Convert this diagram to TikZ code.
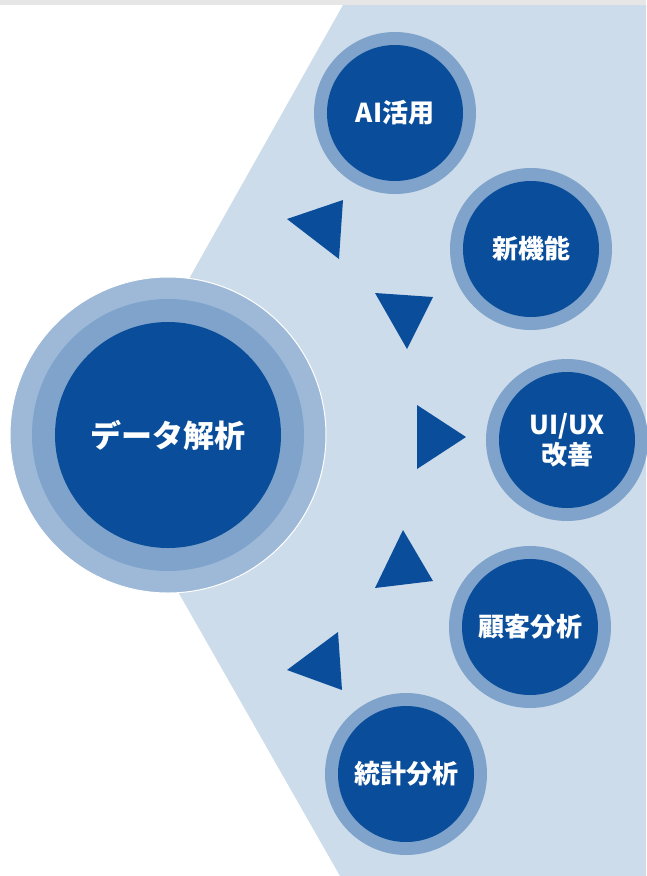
\documentclass[tikz,border=0pt]{standalone}
\usepackage{fontspec}
\newfontfamily\jp{Noto Sans CJK JP}
\definecolor{bandgray}{HTML}{E6E6E6}
\definecolor{panel}{HTML}{CDDCEA}
\definecolor{ringA}{HTML}{9DB9D7}
\definecolor{ringB}{HTML}{7FA3CB}
\definecolor{core}{HTML}{0A4E9B}
\tikzset{
  ring/.style={circle, fill=ringB, draw=none, inner sep=0pt, outer sep=0pt},
  outerring/.style={circle, fill=ringA, draw=white, line width=1pt, inner sep=0pt, outer sep=0pt},
  disc/.style={circle, fill=core, draw=none, inner sep=0pt, outer sep=0pt, text=white, font=\jp\bfseries\fontsize{26}{32}\selectfont, align=center},
  bigdisc/.style={disc, font=\jp\bfseries\fontsize{31}{36}\selectfont},
  pointer/.style={fill=core, draw=none}
}
\begin{document}
\begin{tikzpicture}[x=1pt,y=-1pt]
\useasboundingbox (0,0) rectangle (646,876);
\fill[white] (0,0) rectangle (646,876);
\fill[bandgray] (0,0) rectangle (646,5);
\fill[panel] (343,5) -- (646,5) -- (646,876) -- (340,876) -- (95,446) -- cycle;

% central circle
\node[outerring, minimum size=316pt] (c-out) at (168,435) {};
\node[ring, minimum size=272pt] (c-mid) at (c-out.center) {};
\node[bigdisc, minimum size=226pt] (center) at (c-out.center) {データ解析};

% satellite circles
\node[ring, minimum size=162pt] (ai-r) at (395,113) {};
\node[disc, minimum size=136pt] (ai) at (ai-r.center) {AI活用};

\node[ring, minimum size=162pt] (new-r) at (531,249) {};
\node[disc, minimum size=136pt] (new) at (new-r.center) {新機能};

\node[ring, minimum size=162pt] (ui-r) at (567,440) {};
\node[disc, minimum size=136pt] (ui) at (ui-r.center) {UI/UX\\[-2pt]改善};

\node[ring, minimum size=162pt] (cust-r) at (530,627) {};
\node[disc, minimum size=136pt] (cust) at (cust-r.center) {顧客分析};

\node[ring, minimum size=162pt] (stat-r) at (406,774) {};
\node[disc, minimum size=136pt] (stat) at (stat-r.center) {統計分析};

% triangles
\fill[pointer] (287,219) -- (343,200) -- (339,259) -- cycle;
\fill[pointer] (375,293) -- (433,297) -- (407,349) -- cycle;
\fill[pointer] (417,405) -- (466,437) -- (417,469) -- cycle;
\fill[pointer] (403,530) -- (433,581) -- (375,588) -- cycle;
\fill[pointer] (338,632) -- (342,690) -- (287,670) -- cycle;
\end{tikzpicture}
\end{document}
